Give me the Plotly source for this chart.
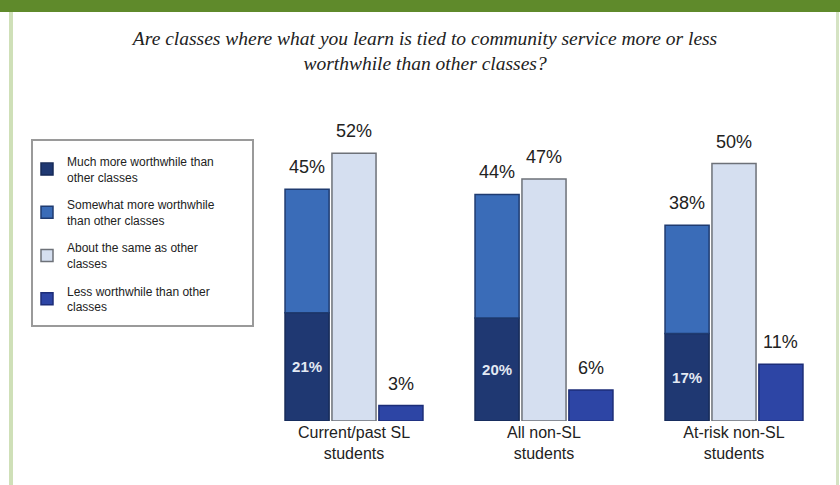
import plotly.graph_objects as go

# ---- data ----
categories = ["Current/past SL<br>students", "All non-SL<br>students", "At-risk non-SL<br>students"]
much_more = [21, 20, 17]            # Much more worthwhile
more_total = [45, 44, 38]           # Much + Somewhat more worthwhile (label on top)
about_same = [52, 47, 50]
less_worth = [3, 6, 11]
somewhat_more = [t - m for t, m in zip(more_total, much_more)]

series_names = [
    "Much more worthwhile than<br>other classes",
    "Somewhat more worthwhile<br>than other classes",
    "About the same as other<br>classes",
    "Less worthwhile than other<br>classes",
]

# ---- style ----
C_MUCH = "#1f3872"
C_SOME = "#3a6cb8"
C_SAME = "#d5dff0"
C_LESS = "#2d45a5"
W = 0.232
OFF = [-0.363, -0.116, 0.131]
LAB_FONT = "Liberation Sans Narrow, Liberation Sans, Arial, sans-serif"

x_idx = list(range(len(categories)))

fig = go.Figure()
fig.add_trace(go.Bar(
    x=x_idx, y=much_more, name=series_names[0], width=W, offset=OFF[0],
    marker=dict(color=C_MUCH, line=dict(color="#162a58", width=1.5)),
    text=[f"{v}%" for v in much_more], textposition="inside", insidetextanchor="middle",
    textfont=dict(family=LAB_FONT, size=15, color="#e3e9f3", weight="bold"),
    legendgroup="a", hoverinfo="skip"))
fig.add_trace(go.Bar(
    x=x_idx, y=somewhat_more, base=much_more, name=series_names[1], width=W, offset=OFF[0],
    marker=dict(color=C_SOME, line=dict(color="#1f3b70", width=1.5)),
    legendgroup="b", hoverinfo="skip"))
fig.add_trace(go.Bar(
    x=x_idx, y=about_same, name=series_names[2], width=W, offset=OFF[1],
    marker=dict(color=C_SAME, line=dict(color="#6d7178", width=1.5)),
    legendgroup="c", hoverinfo="skip"))
fig.add_trace(go.Bar(
    x=x_idx, y=less_worth, name=series_names[3], width=W, offset=OFF[2],
    marker=dict(color=C_LESS, line=dict(color="#1c2d78", width=1.5)),
    legendgroup="d", hoverinfo="skip"))

# value labels above bars
annos = []
for i in x_idx:
    for vals, off in ((more_total, OFF[0]), (about_same, OFF[1]), (less_worth, OFF[2])):
        annos.append(dict(x=i + off + W / 2, y=vals[i], xref="x", yref="y",
                          text=f"{vals[i]}%", showarrow=False, yanchor="bottom",
                          yshift=10, font=dict(family=LAB_FONT, size=18, color="#222")))

# frame decorations (pixel -> paper)
PL, PR, PT, PB = 259, 829, 95, 421
def px(x):
    return (x - PL) / (PR - PL)
def py(y):
    return (PB - y) / (PB - PT)

shapes = [
    dict(type="rect", xref="paper", yref="paper", x0=px(0), x1=px(840), y0=py(12), y1=py(0),
         fillcolor="#5f8a2b", line=dict(width=0), layer="below"),
    dict(type="rect", xref="paper", yref="paper", x0=px(9), x1=px(13), y0=py(485), y1=py(12),
         fillcolor="#cfe0b8", line=dict(width=0), layer="below"),
    dict(type="rect", xref="paper", yref="paper", x0=px(836), x1=px(839), y0=py(485), y1=py(12),
         fillcolor="#d5e3c3", line=dict(width=0), layer="below"),
    # legend frame
    dict(type="rect", xref="paper", yref="paper", x0=px(32), x1=px(253), y0=py(326), y1=py(140),
         fillcolor="white", line=dict(color="#9a9a9a", width=2), layer="below"),
]

fig.update_layout(
    width=840, height=485,
    margin=dict(l=PL, r=840 - PR, t=PT, b=485 - PB, autoexpand=False),
    paper_bgcolor="white", plot_bgcolor="rgba(0,0,0,0)",
    barmode="overlay",
    title=dict(text="Are classes where what you learn is tied to community service more or less<br>worthwhile than other classes?",
               xref="container", x=0.506, xanchor="center",
               yref="container", y=1 - 45 / 485, yanchor="top",
               font=dict(family="Liberation Serif, Times New Roman, serif", size=19.5, color="#222",
                         style="italic")),
    xaxis=dict(range=[-0.5, 2.5], tickmode="array", tickvals=x_idx, ticktext=categories,
               showgrid=False, zeroline=False, showline=False, ticks="",
               tickfont=dict(family=LAB_FONT, size=16, color="#222")),
    yaxis=dict(range=[0, 63.3], showgrid=False, zeroline=False, showline=False,
               showticklabels=False, ticks=""),
    legend=dict(xref="container", yref="container", x=27 / 840, y=1 - 147 / 485,
                xanchor="left", yanchor="top", bgcolor="rgba(0,0,0,0)",
                borderwidth=0,
                font=dict(family=LAB_FONT, size=12, color="#222"),
                tracegroupgap=9, itemwidth=30, traceorder="grouped"),
    annotations=annos,
    shapes=shapes,
)
fig.update_traces(cliponaxis=False)

fig.write_html("out.html", config={"displayModeBar": False},
               post_script="document.body.style.margin='0';document.body.style.padding='0';")
